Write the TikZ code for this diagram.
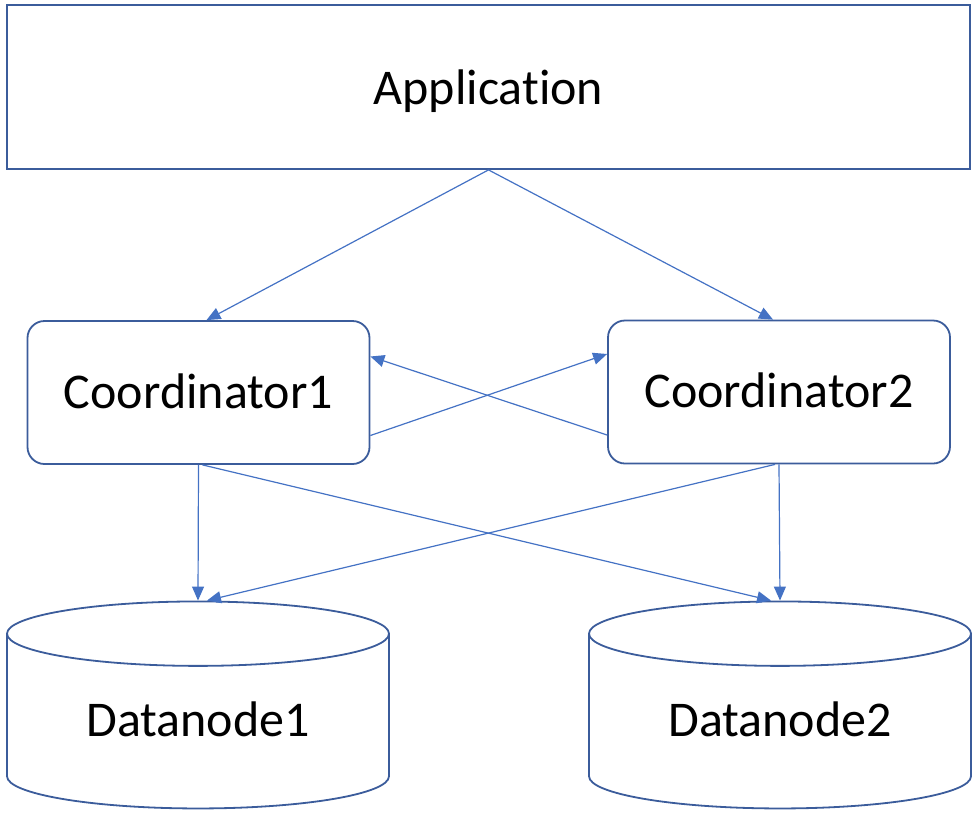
\documentclass[tikz,border=0pt]{standalone}
\usepackage{fontspec}
\setmainfont{Carlito}[Ligatures=NoCommon]
\usetikzlibrary{arrows.meta, shapes.geometric}

\definecolor{linkblue}{HTML}{4472C4}
\definecolor{boxblue}{HTML}{3B5C9B}

\begin{document}
\begin{tikzpicture}[x=1pt, y=-1pt,
        every node/.style={font=\fontsize{50}{60}\selectfont, text=black},
        appbox/.style={draw=boxblue, line width=1.8pt, minimum width=963pt, minimum height=164pt, text height=35pt, text depth=0pt},
        coordbox/.style={draw=boxblue, line width=1.8pt, rounded corners=17pt, minimum width=342pt, minimum height=143pt, text height=35pt, text depth=4pt},
        databox/.style={cylinder, shape border rotate=90, draw=boxblue, line width=1.8pt, minimum width=382pt, minimum height=207pt, aspect=0.28, text height=35pt, text depth=12pt},
        link/.style={draw=linkblue, line width=1.2pt, -{Triangle[length=14pt, width=12pt]}}]
        % Rahmen
        \useasboundingbox (0,0) rectangle (974,814);

        % Application
        \node[appbox] (app) at (488.5, 87) {Application};

        % Coordinators
        \node[coordbox] (coordA) at (198.5, 392.5) {Coordinator1};
        \node[coordbox] (coordB) at (779, 392) {Coordinator2};

        % Datanodes
        \node[databox] (dataA) at (198, 724.5) {Datanode1};
        \node[databox] (dataB) at (780, 724.5) {Datanode2};

        % Application -> Coordinators
        \draw[link] (app.south) -- ([xshift=8pt]coordA.north);
        \draw[link] (app.south) -- ([xshift=-6pt]coordB.north);

        % Coordinator <-> Coordinator
        \draw[link] ([yshift=-43pt]coordA.east) -- ([yshift=38pt]coordB.west);
        \draw[link] ([yshift=-43pt]coordB.west) -- ([yshift=36pt]coordA.east);

        % Coordinators -> Datanodes
        \draw[link] (coordA.south) -- (dataA.top);
        \draw[link] ([xshift=4pt]coordA.south) -- ([xshift=-9pt]dataB.top);
        \draw[link] (coordB.south) -- (dataB.top);
        \draw[link] ([xshift=-4pt]coordB.south) -- ([xshift=9pt]dataA.top);
    \end{tikzpicture}
\end{document}
